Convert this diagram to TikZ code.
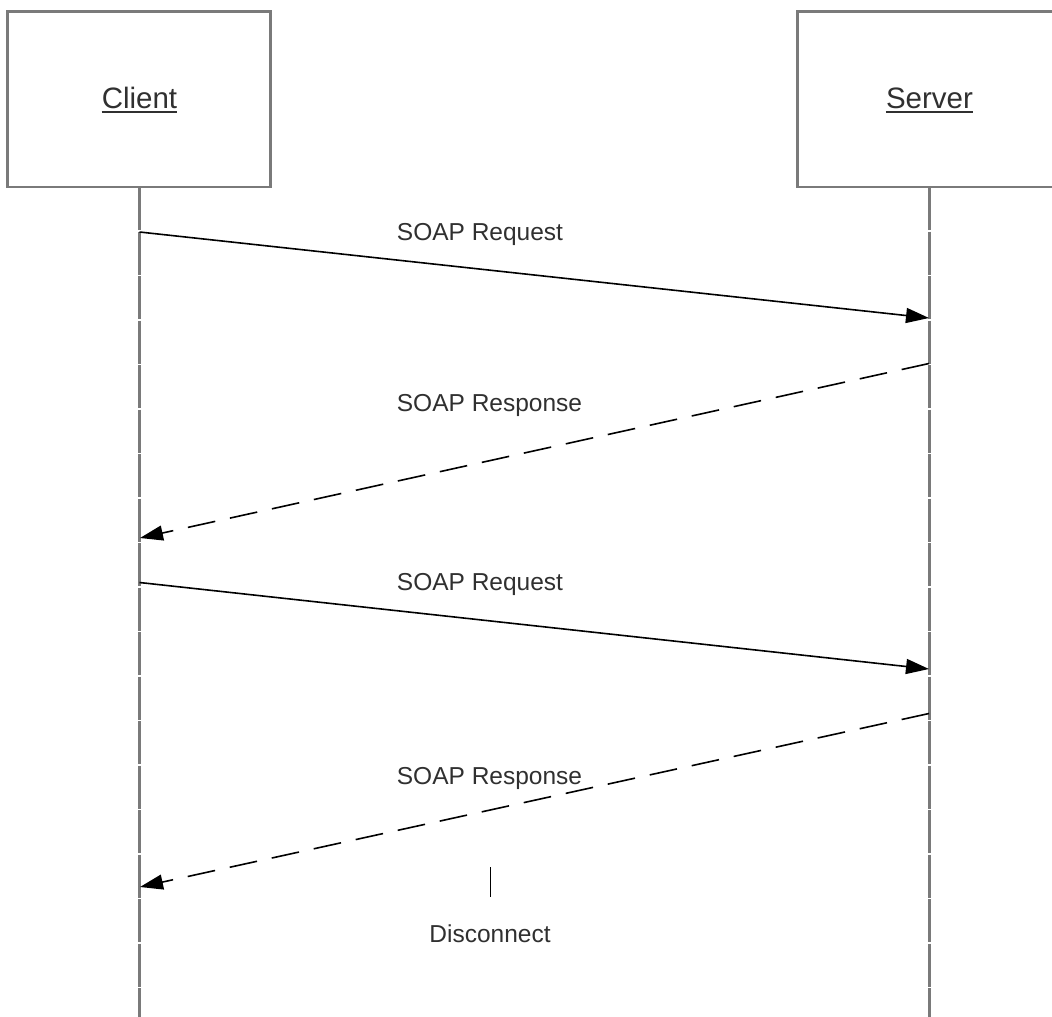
\documentclass[tikz,border=0pt]{standalone}
\usepackage{fontspec}
\setmainfont{Liberation Sans}
\usetikzlibrary{arrows.meta}
\definecolor{boxgray}{HTML}{7A7A7A}
\definecolor{txt}{HTML}{303030}
\tikzset{
  lifebox/.style={draw=boxgray, line width=2.5pt, fill=white},
  lifeline/.style={draw=boxgray, line width=2.5pt, dash pattern=on 43pt off 1.5pt},
  headtext/.style={inner sep=0pt, anchor=base, text=txt, font=\fontsize{29.5}{34}\selectfont},
  msgtext/.style={inner sep=0pt, anchor=base, text=txt, font=\fontsize{24.5}{29}\selectfont},
  msg/.style={draw=black, line width=1.6pt, -{Triangle[length=23pt,width=15pt]}},
  reply/.style={msg, dash pattern=on 28pt off 15pt},
  underl/.style={draw=txt, line width=1.5pt}
}
\begin{document}
\begin{tikzpicture}[x=1pt,y=-1pt]
\useasboundingbox (0,0) rectangle (1052,1017);
\clip (0,0) rectangle (1052,1017);
% lifelines
\coordinate (cTop) at (139.5,187);
\coordinate (cBot) at (139.5,1017);
\coordinate (sTop) at (929.5,187);
\coordinate (sBot) at (929.5,1017);
\draw[lifeline] (cTop) -- (cBot);
\draw[lifeline] (sTop) -- (sBot);
% boxes
\draw[lifebox] (7.5,11.5) rectangle (270.5,187);
\draw[lifebox] (797.5,11.5) rectangle (1070,187);
\node[headtext] (cl) at (139.5,108) {Client};
\node[headtext] (sl) at (929.5,108) {Server};
\draw[underl] ([yshift=-4pt]cl.base west) -- ([yshift=-4pt]cl.base east);
\draw[underl] ([yshift=-4pt]sl.base west) -- ([yshift=-4pt]sl.base east);
% message points
\coordinate (c1) at (139.5,232);
\coordinate (s1) at (929,318);
\coordinate (s2) at (929,363.5);
\coordinate (c2) at (140,538);
\coordinate (c3) at (139.5,582.5);
\coordinate (s3) at (929,669);
\coordinate (s4) at (929,713.5);
\coordinate (c4) at (140,887);
\draw[msg] (c1) -- (s1);
\draw[reply] (s2) -- (c2);
\draw[msg] (c3) -- (s3);
\draw[reply] (s4) -- (c4);
% labels
\node[msgtext] (l1) at (480,240.5) {SOAP Request};
\node[msgtext] (l2) at (489.5,411.5) {SOAP Response};
\node[msgtext] (l3) at (480,590) {SOAP Request};
\node[msgtext] (l4) at (489.5,784) {SOAP Response};
% disconnect
\coordinate (d1) at (490.5,867);
\coordinate (d2) at (490.5,897);
\draw[draw=black, line width=1.6pt] (d1) -- (d2);
\node[msgtext] (dl) at (490,942.5) {Disconnect};
\end{tikzpicture}
\end{document}
